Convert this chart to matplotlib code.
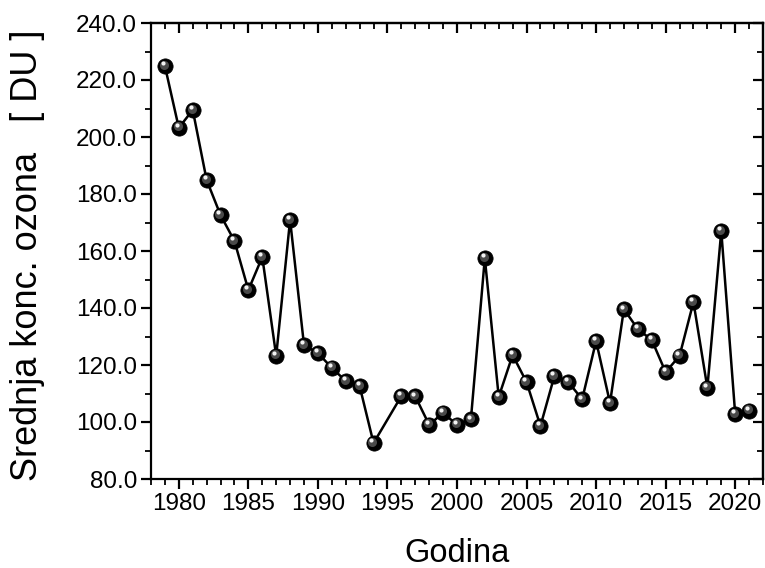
import matplotlib.pyplot as plt
from matplotlib.ticker import MultipleLocator, FormatStrFormatter
from matplotlib.transforms import offset_copy

godine = [1979, 1980, 1981, 1982, 1983, 1984, 1985, 1986, 1987, 1988,
          1989, 1990, 1991, 1992, 1993, 1994, 1996, 1997, 1998, 1999,
          2000, 2001, 2002, 2003, 2004, 2005, 2006, 2007, 2008, 2009,
          2010, 2011, 2012, 2013, 2014, 2015, 2016, 2017, 2018, 2019,
          2020, 2021]
ozon = [224.9, 203.2, 209.5, 184.9, 172.6, 163.5, 146.3, 157.9, 123.2, 170.9,
        127.0, 124.2, 119.0, 114.4, 112.6, 92.6, 109.1, 109.0, 99.0, 103.2,
        99.0, 101.0, 157.5, 108.8, 123.5, 114.0, 98.6, 116.1, 114.0, 108.0,
        128.4, 106.7, 139.6, 132.6, 128.8, 117.5, 123.2, 142.1, 112.0, 167.0,
        102.8, 103.9]

plt.rcParams['font.family'] = ['Liberation Sans', 'DejaVu Sans']

fig = plt.figure(figsize=(7.65, 5.68), dpi=100)
ax = fig.add_axes([151 / 765, 1 - 479 / 568, (763 - 151) / 765, (479 - 23) / 568])

ax.plot(godine, ozon, '-', color='black', lw=1.8, zorder=2)
# kuglice: crna osnova + sivi sjaj + bijeli odsjaj
ax.plot(godine, ozon, 'o', ms=11, color='black', mec='black', mew=0.5, zorder=3)
t1 = offset_copy(ax.transData, fig=fig, x=-0.8, y=1.0, units='points')
ax.plot(godine, ozon, 'o', ms=6.5, color='#4a4a4a', mew=0, transform=t1, zorder=4)
t2 = offset_copy(ax.transData, fig=fig, x=-1.5, y=1.9, units='points')
ax.plot(godine, ozon, 'o', ms=3, color='#f2f2f2', mew=0, transform=t2, zorder=5)

ax.set_xlim(1978, 2022)
ax.set_ylim(80, 240)
ax.xaxis.set_major_locator(MultipleLocator(5))
ax.xaxis.set_minor_locator(MultipleLocator(1))
ax.yaxis.set_major_locator(MultipleLocator(20))
ax.yaxis.set_minor_locator(MultipleLocator(10))
ax.yaxis.set_major_formatter(FormatStrFormatter('%.1f'))

for s in ax.spines.values():
    s.set_linewidth(1.6)

ax.tick_params(which='major', direction='out', length=7, width=1.6, labelsize=17.5, pad=3)
ax.tick_params(which='minor', direction='out', length=4.5, width=1.3)

top = ax.secondary_xaxis('top')
top.xaxis.set_major_locator(MultipleLocator(5))
top.xaxis.set_minor_locator(MultipleLocator(1))
top.tick_params(which='major', direction='in', length=7, width=1.6, labeltop=False)
top.tick_params(which='minor', direction='in', length=4.5, width=1.3)
top.spines['top'].set_linewidth(1.6)

right = ax.secondary_yaxis('right')
right.yaxis.set_major_locator(MultipleLocator(20))
right.yaxis.set_minor_locator(MultipleLocator(10))
right.tick_params(which='major', direction='in', length=7, width=1.6, labelright=False)
right.tick_params(which='minor', direction='in', length=4.5, width=1.3)
right.spines['right'].set_linewidth(1.6)

ax.set_xlabel('Godina', fontsize=23.5)
ax.set_ylabel('Srednja konc. ozona   [ DU ]', fontsize=26)
ax.xaxis.set_label_coords(0.5, -(553 - 479) / 456, transform=ax.transAxes)
ax.xaxis.label.set_va('center')
ax.yaxis.set_label_coords(-(151 - 28) / 612, 0.5 - 4 / 456, transform=ax.transAxes)
ax.yaxis.label.set_va('center')

fig.savefig('out.png', dpi=100)
